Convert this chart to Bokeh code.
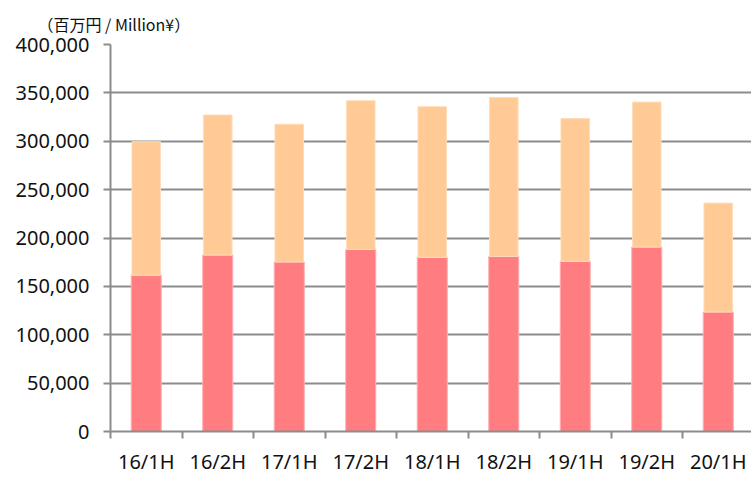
from bokeh.plotting import figure
from bokeh.models import Range1d, FixedTicker, NumeralTickFormatter, ColumnDataSource
from bokeh.embed import file_html
from bokeh.resources import INLINE

# ---- data ----
periods = ["16/1H", "16/2H", "17/1H", "17/2H", "18/1H", "18/2H", "19/1H", "19/2H", "20/1H"]
segment_lower = [161500, 182300, 175200, 188200, 180000, 181000, 175900, 190600, 123500]
totals = [299500, 327100, 317600, 341900, 335700, 345300, 323400, 340500, 236100]
y_ticks = [0, 50000, 100000, 150000, 200000, 250000, 300000, 350000, 400000]
unit_label = "（百万円 / Million¥）"

centers = list(range(1, len(periods) + 1))
boundaries = [c - 0.5 for c in centers] + [centers[-1] + 0.5]

src = ColumnDataSource(dict(x=centers, low=segment_lower, total=totals))

GRID = "#8c8c8c"
PINK = "#FF7C80"
ORANGE = "#FFCA96"

p = figure(width=751, height=477,
           x_range=Range1d(0.5, 9.465), y_range=Range1d(0, 400000),
           output_backend="svg", toolbar_location=None,
           min_border_left=110, min_border_right=0,
           min_border_top=44, min_border_bottom=44)

p.vbar(x="x", width=0.42, bottom=0, top="low", source=src,
       fill_color=PINK, line_color="#FFB0B2", line_width=1)
p.vbar(x="x", width=0.40, bottom="low", top="total", source=src,
       fill_color=ORANGE, line_color="#FFDDBB", line_width=1)

# x axis: labels at centers, tick marks at boundaries
xa = p.xaxis[0]
xa.ticker = FixedTicker(ticks=centers, minor_ticks=boundaries)
xa.major_label_overrides = {c: lab for c, lab in zip(centers, periods)}
xa.major_tick_out = 0
xa.major_tick_in = 0
xa.minor_tick_out = 7
xa.minor_tick_in = 0
xa.minor_tick_line_color = GRID
xa.minor_tick_line_width = 2
xa.axis_line_color = GRID
xa.axis_line_width = 2
xa.major_label_text_font = "Noto Sans"
xa.major_label_text_font_size = "20px"
xa.major_label_text_color = "#111111"
xa.major_label_standoff = 9

ya = p.yaxis[0]
ya.ticker = FixedTicker(ticks=y_ticks)
ya.formatter = NumeralTickFormatter(format="0,0")
ya.major_tick_out = 7
ya.major_tick_in = 0
ya.minor_tick_line_color = None
ya.major_tick_line_color = GRID
ya.major_tick_line_width = 2
ya.axis_line_color = GRID
ya.axis_line_width = 2
ya.major_label_text_font = "Noto Sans"
ya.major_label_text_font_size = "20px"
ya.major_label_text_color = "#111111"
ya.major_label_standoff = 14

p.xgrid.visible = False
p.ygrid.ticker = FixedTicker(ticks=y_ticks)
p.ygrid.grid_line_color = GRID
p.ygrid.grid_line_width = 2

p.outline_line_color = None

p.title.text = unit_label
p.title.align = "left"
p.title.offset = -73
p.title.standoff = 17
p.title.text_font = "Noto Sans CJK JP"
p.title.text_font_size = "16px"
p.title.text_font_style = "normal"
p.title.text_color = "#111111"

open("out.html", "w").write(file_html(p, INLINE))
